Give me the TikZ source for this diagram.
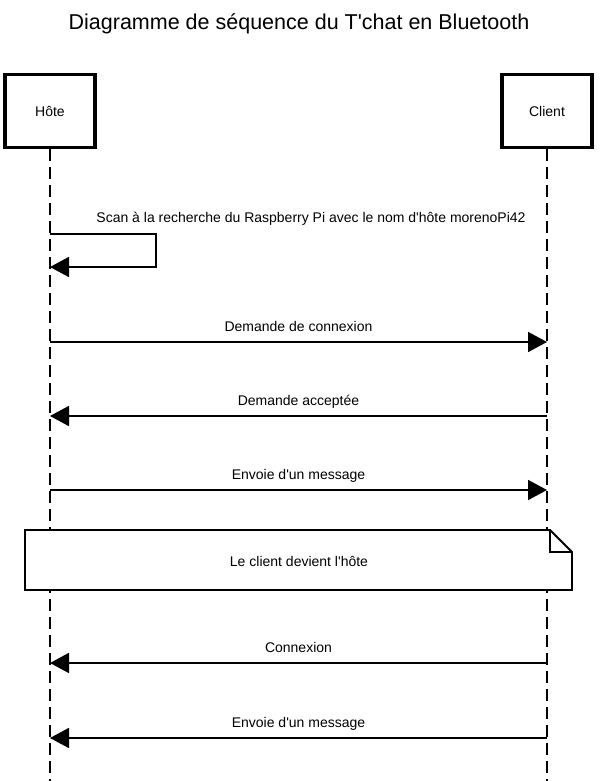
\documentclass[tikz,border=0pt]{standalone}
\usepackage{fontspec}
\setmainfont{Liberation Sans}
\usetikzlibrary{arrows.meta, positioning, calc}
\newcommand{\apos}{\textquotesingle}

\begin{document}
\begin{tikzpicture}[x=1pt, y=-1pt,
    actor/.style={draw, line width=3.5pt, fill=white, minimum width=90pt, minimum height=73pt, font=\fontsize{14}{16}\selectfont},
    life/.style={line width=1.8pt, dash pattern=on 12pt off 6pt},
    msg/.style={line width=1.8pt, -{Triangle[length=19pt, width=20pt]}},
    lbl/.style={anchor=base, font=\fontsize{14}{16}\selectfont, inner sep=0pt},
    note/.style={draw, line width=1.8pt, fill=white, line join=miter}]
  \useasboundingbox (0,0) rectangle (603,781);
  \node[anchor=base, font=\fontsize{21.5}{25}\selectfont] (title) at (299,30) {Diagramme de séquence du T\apos chat en Bluetooth};
  \node[actor] (hote) at (50,111) {Hôte};
  \node[actor] (client) at (547,111) {Client};
  % lignes de vie
  \coordinate (hote end) at (50,781);
  \coordinate (client end) at (547,781);
  \draw[life] (hote.south) -- (hote end);
  \draw[life] (client.south) -- (client end);
  % auto-message
  \coordinate (s1) at (50,234);
  \coordinate (s2) at (50,267);
  \node[lbl] (scan) at (311,222) {Scan à la recherche du Raspberry Pi avec le nom d\apos hôte morenoPi42};
  \draw[msg, line join=miter] (s1) -- (156,234) -- (156,267) -- (s2);
  % messages
  \foreach \y/\dir/\txt [count=\i] in {342/r/Demande de connexion, 416/l/Demande acceptée,
      490/r/Envoie d\apos un message, 663/l/Connexion, 738/l/Envoie d\apos un message} {
    \coordinate (h\i) at (50,\y);
    \coordinate (c\i) at (547,\y);
    \if\dir r
      \draw[msg] (h\i) -- node[lbl, midway, yshift=11pt] {\txt} (c\i);
    \else
      \draw[msg] (c\i) -- node[lbl, midway, yshift=11pt] {\txt} (h\i);
    \fi
  }
  % note
  \draw[note] (25,530) -- (550,530) -- (572,552) -- (572,590) -- (25,590) -- cycle;
  \draw[note, fill=none] (550,530) -- (550,552) -- (572,552);
  \node[lbl] (switch) at (299,566) {Le client devient l\apos hôte};
\end{tikzpicture}
\end{document}
